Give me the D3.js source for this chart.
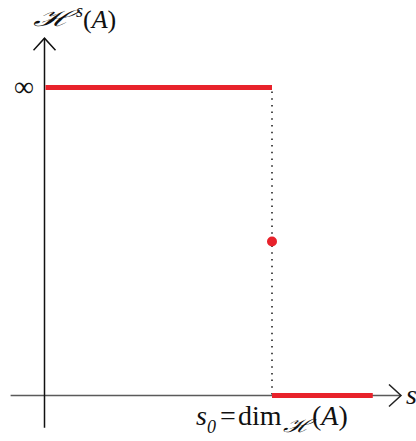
<!DOCTYPE html>
<html>
<head>
<meta charset="utf-8">
<script src="https://cdn.jsdelivr.net/npm/d3@7"></script>
<style>
  html, body { margin: 0; padding: 0; background: #fff; }
  svg { display: block; }
  text { font-family: "Liberation Serif", "DejaVu Serif", serif; fill: #111; }
</style>
</head>
<body>
<svg id="chart" width="416" height="441"></svg>
<script>
// Hausdorff measure as a function of s: infinite below the dimension, zero above it
const sRange = [-0.149, 1.567];          // extent of the horizontal axis (in s units)
const levelRange = [-0.21, 2.32];         // extent of the vertical axis (level units)
const upperSegment = [0, 1];              // s values where H^s(A) = ∞
const upperLevel = 2;                     // level drawn as ∞
const lowerSegment = [1, 1.443];          // s values where H^s(A) = 0
const lowerLevel = 0;
const criticalPoint = { s: 1, level: 1 }; // value at s = s0 somewhere in between
const yTickLabels = [{ level: 2, label: "∞" }];

const svg = d3.select("#chart");
const x = d3.scaleLinear().domain([0, 1]).range([44.5, 272]);
const y = d3.scaleLinear().domain([0, 2]).range([395.5, 87.5]);
const red = "#e8222b";

// open chevron arrowheads
function arrowHead(id, color) {
  svg.append("defs").append("marker")
    .attr("id", id).attr("viewBox", "-14 -12 16 24")
    .attr("refX", 0).attr("refY", 0)
    .attr("markerWidth", 16).attr("markerHeight", 24)
    .attr("markerUnits", "userSpaceOnUse")
    .attr("orient", "auto")
    .append("path").attr("d", "M-12,-11 L0,0 L-12,11")
    .attr("fill", "none").attr("stroke", color).attr("stroke-width", 1.5);
}
arrowHead("arrowX", "#222");
arrowHead("arrowY", "#111");

// horizontal axis
svg.append("line")
  .attr("x1", x(sRange[0])).attr("x2", x(sRange[1]))
  .attr("y1", y(0)).attr("y2", y(0))
  .attr("stroke", "#5a5a5a").attr("stroke-width", 1.6)
  .attr("marker-end", "url(#arrowX)");

// vertical axis
svg.append("line")
  .attr("x1", x(0)).attr("x2", x(0))
  .attr("y1", y(levelRange[0])).attr("y2", y(levelRange[1]))
  .attr("stroke", "#111").attr("stroke-width", 1.5)
  .attr("marker-end", "url(#arrowY)");

// dotted guide at s0
svg.append("line")
  .attr("x1", x(criticalPoint.s)).attr("x2", x(criticalPoint.s))
  .attr("y1", y(upperLevel) + 4).attr("y2", y(lowerLevel))
  .attr("stroke", "#222").attr("stroke-width", 1.6)
  .attr("stroke-dasharray", "1.5,5.2");

// red segments
svg.append("line")
  .attr("x1", x(upperSegment[0]) + 1).attr("x2", x(upperSegment[1]))
  .attr("y1", y(upperLevel)).attr("y2", y(upperLevel))
  .attr("stroke", red).attr("stroke-width", 5);
svg.append("line")
  .attr("x1", x(lowerSegment[0])).attr("x2", x(lowerSegment[1]))
  .attr("y1", y(lowerLevel)).attr("y2", y(lowerLevel))
  .attr("stroke", red).attr("stroke-width", 5);

// value at the critical dimension
svg.append("circle")
  .attr("cx", x(criticalPoint.s)).attr("cy", y(criticalPoint.level))
  .attr("r", 5).attr("fill", red);

// tick label ∞
svg.selectAll("text.ytick").data(yTickLabels).join("text")
  .attr("class", "ytick")
  .attr("x", 24).attr("y", d => y(d.level) + 8)
  .attr("text-anchor", "middle")
  .attr("font-size", 28)
  .text(d => d.label);

// vertical axis title: ℋ^s(A)
svg.append("text").attr("x", 33).attr("y", 26)
  .attr("font-size", 22).attr("font-style", "italic")
  .attr("textLength", 39).attr("lengthAdjust", "spacingAndGlyphs")
  .text("ℋ");
svg.append("text").attr("x", 76).attr("y", 17)
  .attr("font-size", 18).attr("font-style", "italic").text("s");
const ya = svg.append("text").attr("x", 83).attr("y", 28).attr("font-size", 26);
ya.append("tspan").text("(");
ya.append("tspan").attr("font-style", "italic").text("A");
ya.append("tspan").text(")");

// horizontal axis title
svg.append("text").attr("x", 406).attr("y", 404)
  .attr("font-size", 28).attr("font-style", "italic").text("s");

// s0 = dim_ℋ(A)
svg.append("text").attr("x", 196).attr("y", 425)
  .attr("font-size", 28).attr("font-style", "italic").text("s");
svg.append("text").attr("x", 207).attr("y", 433)
  .attr("font-size", 18).attr("font-style", "italic").text("0");
svg.append("text").attr("x", 220).attr("y", 425)
  .attr("font-size", 28).text("=");
svg.append("text").attr("x", 238).attr("y", 425)
  .attr("font-size", 28).text("dim");
svg.append("text").attr("x", 283).attr("y", 432)
  .attr("font-size", 18).attr("font-style", "italic")
  .attr("textLength", 28).attr("lengthAdjust", "spacingAndGlyphs")
  .text("ℋ");
const xa = svg.append("text").attr("x", 312).attr("y", 425).attr("font-size", 28);
xa.append("tspan").text("(");
xa.append("tspan").attr("font-style", "italic").text("A");
xa.append("tspan").text(")");
</script>
</body>
</html>
